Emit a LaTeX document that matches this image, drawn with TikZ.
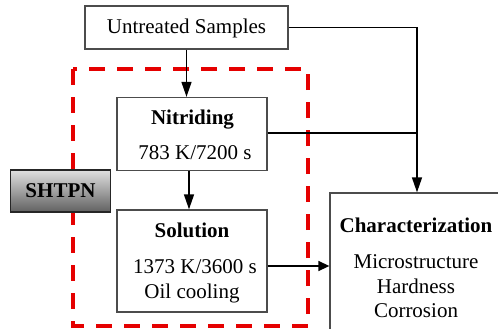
\documentclass[tikz,border=0pt]{standalone}
\usepackage{fontspec}
\setmainfont{Liberation Serif}
\usetikzlibrary{arrows.meta}
\begin{document}
\begin{tikzpicture}[x=1pt,y=-1pt,
  box/.style={draw=black!70,line width=1.3pt,fill=white,inner sep=0pt,minimum width=#1},
  txt/.style={anchor=base,inner sep=0pt,font=\fontsize{21}{25}\selectfont},
  btxt/.style={txt,font=\fontsize{21}{25}\selectfont\bfseries},
  arr/.style={draw=black,line width=1.4pt,-{Triangle[length=15pt,width=10pt]}},
  harr/.style={draw=black,line width=1.4pt,-{Triangle[length=11pt,width=10pt]}},
  conn/.style={draw=black,line width=1.4pt},
  redbox/.style={draw=red!90!black,line width=3.5pt,dash pattern=on 16pt off 12pt}]
\useasboundingbox (0,0) rectangle (498,329);
% red dashed frame
\draw[redbox] (73,69) rectangle (308,326);
% boxes
\node[box=203pt,minimum height=43pt] (unt) at (186.5,27.5) {};
\node[box=150pt,minimum height=73pt] (nit) at (192,134) {};
\node[box=150pt,minimum height=102pt] (sol) at (192,261) {};
\node[box=174pt,minimum height=140pt] (char) at (417,263) {};
\node[draw=black!85,line width=1.2pt,top color=black!12,bottom color=black!62,
      minimum width=100pt,minimum height=42pt,inner sep=0pt] (shtpn) at (60.5,191) {};
% texts
\node[txt] (tunt) at (186.5,34) {Untreated Samples};
\node[btxt] (tnit) at (192.5,124) {Nitriding};
\node[txt] (tnit2) at (195,159) {783 K/7200 s};
\node[btxt] (tsol) at (192,237) {Solution};
\node[txt] (tsol2) at (195,273) {1373 K/3600 s};
\node[txt] (tsol3) at (192,298) {Oil cooling};
\node[btxt] (tsh) at (60.5,197) {SHTPN};
\node[btxt] (tchar) at (416,232) {Characterization};
\node[txt] (tc1) at (416,268) {Microstructure};
\node[txt] (tc2) at (416,293) {Hardness};
\node[txt] (tc3) at (416,317) {Corrosion};
% connectors
\draw[arr] (unt.south) -- (unt.south |- nit.north);
\draw[arr] ([xshift=-3pt]nit.south) -- ([xshift=-3pt]nit.south |- sol.north);
\draw[arr] (unt.east) -| (char.north);
\coordinate (join) at (nit.east -| char.north);
\draw[conn] ([yshift=1pt]nit.east) -- ([yshift=1pt]join);
\draw[harr] ([yshift=-5pt]sol.east) -- ([yshift=-5pt]sol.east -| char.west);
\end{tikzpicture}
\end{document}
